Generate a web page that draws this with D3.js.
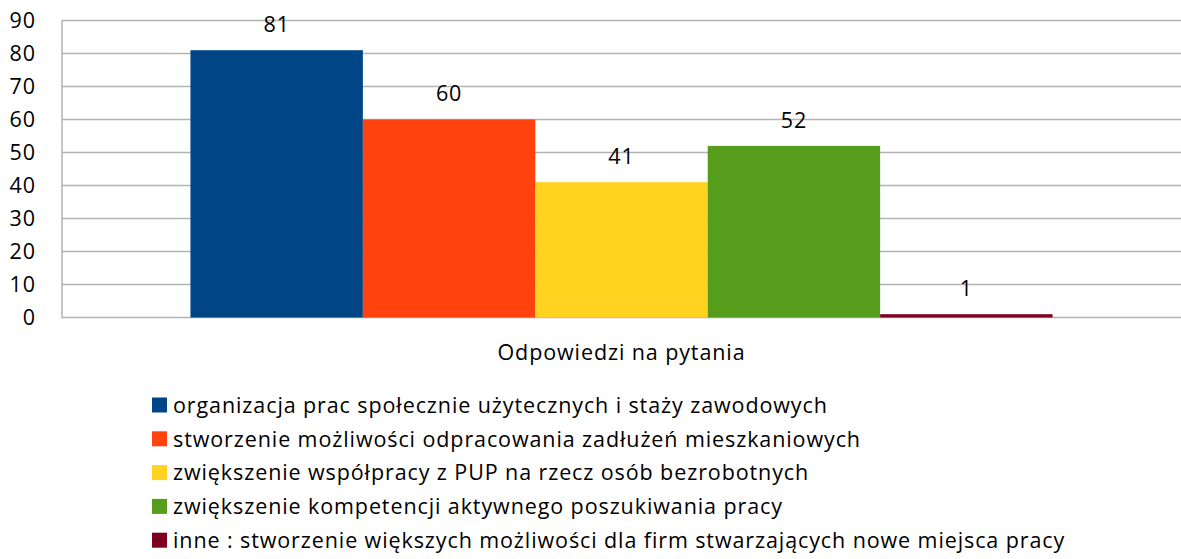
<!DOCTYPE html>
<html><head><meta charset="utf-8">
<script src="https://cdn.jsdelivr.net/npm/d3@7"></script>
<style>body{margin:0;background:#fff}svg{display:block}</style>
</head><body>
<svg id="c" width="1181" height="559"></svg>
<script>
const category = "Odpowiedzi na pytania";
const seriesNames = [
  "organizacja prac społecznie użytecznych i staży zawodowych",
  "stworzenie możliwości odpracowania zadłużeń mieszkaniowych",
  "zwiększenie współpracy z PUP na rzecz osób bezrobotnych",
  "zwiększenie kompetencji aktywnego poszukiwania pracy",
  "inne : stworzenie większych możliwości dla firm stwarzających nowe miejsca pracy"
];
const values = [81, 60, 41, 52, 1];
const colors = ["#004586", "#ff420e", "#ffd320", "#579d1c", "#7e0021"];
const yTicks = [0, 10, 20, 30, 40, 50, 60, 70, 80, 90];

const svg = d3.select("#c");
const font = "'Open Sans', sans-serif";
const fs = 21.5;
const ls = "0.9px";
const m = {left: 62, right: 1181, top: 20.5, bottom: 317.5};

const y = d3.scaleLinear().domain([0, 90]).range([m.bottom, m.top]);
const x = d3.scaleBand().domain(seriesNames).range([m.left, m.right])
  .paddingInner(0).paddingOuter(0.745);

// gridlines
svg.append("g").selectAll("line").data(yTicks).join("line")
  .attr("x1", m.left).attr("x2", m.right)
  .attr("y1", d => y(d)).attr("y2", d => y(d))
  .attr("stroke", "#b3b3b3").attr("stroke-width", 1.5);
svg.append("line").attr("x1", m.left).attr("x2", m.left)
  .attr("y1", m.top).attr("y2", m.bottom + 0.75)
  .attr("stroke", "#b3b3b3").attr("stroke-width", 1.5);

// y tick labels
const yAxis = d3.axisLeft(y).tickValues(yTicks).tickSize(0).tickPadding(26);
const ga = svg.append("g").attr("transform", `translate(${m.left},0)`).call(yAxis);
ga.select(".domain").remove();
ga.selectAll("text").attr("font-family", font).attr("font-size", fs).attr("fill", "#000")
  .attr("text-anchor", "end").style("letter-spacing", ls);

// bars
svg.append("g").selectAll("rect").data(values).join("rect")
  .attr("x", (d, i) => x(seriesNames[i]))
  .attr("width", x.bandwidth())
  .attr("y", d => y(d))
  .attr("height", d => y(0) - y(d))
  .attr("fill", (d, i) => colors[i]);

// value labels
svg.append("g").selectAll("text").data(values).join("text")
  .attr("x", (d, i) => x(seriesNames[i]) + x.bandwidth() / 2)
  .attr("y", d => y(d) - 26)
  .attr("dy", "0.36em")
  .attr("text-anchor", "middle")
  .attr("font-family", font).attr("font-size", fs).attr("fill", "#000")
  .style("letter-spacing", ls)
  .text(d => d);

// category label
svg.append("text").attr("x", (m.left + m.right) / 2).attr("y", 352).attr("dy", "0.36em")
  .attr("text-anchor", "middle").attr("font-family", font).attr("font-size", fs)
  .style("letter-spacing", ls)
  .text(category);

// legend
const lg = svg.append("g").selectAll("g").data(seriesNames).join("g")
  .attr("transform", (d, i) => `translate(152,${405 + i * 33.8})`);
lg.append("rect").attr("x", 0).attr("y", -7.5).attr("width", 15).attr("height", 15)
  .attr("fill", (d, i) => colors[i]);
lg.append("text").attr("x", 21).attr("y", 0).attr("dy", "0.36em")
  .attr("font-family", font).attr("font-size", fs).attr("fill", "#000")
  .style("letter-spacing", ls)
  .text(d => d);
</script>
</body></html>
